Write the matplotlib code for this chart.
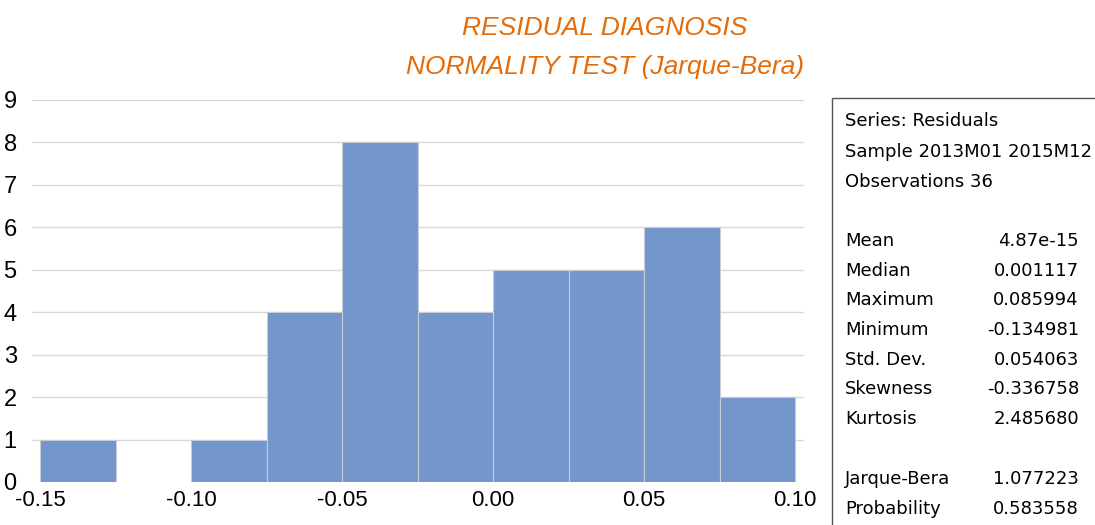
import matplotlib
matplotlib.use("Agg")
import matplotlib.pyplot as plt
from matplotlib.patches import Rectangle

# residual histogram (bin width 0.025)
bin_edges = [-0.15, -0.125, -0.10, -0.075, -0.05, -0.025, 0.0, 0.025, 0.05, 0.075, 0.10]
counts = [1, 0, 1, 4, 8, 4, 5, 5, 6, 2]
xticks = [-0.15, -0.10, -0.05, 0.00, 0.05, 0.10]
yticks = list(range(0, 10))

stat_header = ["Series: Residuals", "Sample 2013M01 2015M12", "Observations 36"]
stat_names = ["Mean", "Median", "Maximum", "Minimum", "Std. Dev.", "Skewness", "Kurtosis"]
stat_values = ["4.87e-15", "0.001117", "0.085994", "-0.134981", "0.054063", "-0.336758", "2.485680"]
test_names = ["Jarque-Bera", "Probability"]
test_values = ["1.077223", "0.583558"]

plt.rcParams['font.family'] = ['Liberation Sans', 'DejaVu Sans']

W, H = 1095, 525
fig = plt.figure(figsize=(W / 100, H / 100), dpi=100)
ax = fig.add_axes([32 / W, 1 - 482 / H, 772 / W, 382 / H])

widths = [bin_edges[i + 1] - bin_edges[i] for i in range(len(counts))]
edges = ['#C8CCD4' if c > 0 else 'none' for c in counts]
ax.bar(bin_edges[:-1], counts, width=widths, align='edge',
       color='#7396CD', edgecolor=edges, linewidth=0.8, zorder=2)

ax.set_xlim(-0.15265, 0.10298)
ax.set_ylim(0, 9)
ax.set_xticks(xticks)
ax.set_xticklabels(["%.2f" % v for v in xticks])
ax.set_yticks(yticks)
ax.tick_params(length=0, labelsize=16, pad=6)
ax.tick_params(axis='y', labelsize=17, pad=11)
ax.grid(axis='y', color='#D9D9D9', linewidth=1, zorder=0)
ax.yaxis.get_gridlines()[0].set_visible(False)
for s in ax.spines.values():
    s.set_visible(False)

fig.text(605 / W, 1 - 28 / H, "RESIDUAL DIAGNOSIS", color='#E46C0A',
         fontsize=19, style='italic', ha='center', va='center')
fig.text(605 / W, 1 - 67 / H, "NORMALITY TEST (Jarque-Bera)", color='#E46C0A',
         fontsize=19, style='italic', ha='center', va='center')

# stats box
fig.patches.append(Rectangle((832 / W, -0.01), 0.3, (1 - 98 / H) + 0.01,
                             transform=fig.transFigure, fill=False,
                             edgecolor='#555555', linewidth=1))
fs = 13
ys = [121, 152, 182]
for t, y in zip(stat_header, ys):
    fig.text(845 / W, 1 - y / H, t, fontsize=fs, va='center', ha='left',
             family='DejaVu Sans')
y0 = 241
for i, (n, v) in enumerate(zip(stat_names, stat_values)):
    y = y0 + i * 29.7
    fig.text(845 / W, 1 - y / H, n, fontsize=fs, va='center', ha='left',
             family='DejaVu Sans')
    fig.text(1079 / W, 1 - y / H, v, fontsize=fs, va='center', ha='right',
             family='DejaVu Sans')
for i, (n, v) in enumerate(zip(test_names, test_values)):
    y = 479 + i * 30
    fig.text(845 / W, 1 - y / H, n, fontsize=fs, va='center', ha='left',
             family='DejaVu Sans')
    fig.text(1079 / W, 1 - y / H, v, fontsize=fs, va='center', ha='right',
             family='DejaVu Sans')

fig.savefig("out.png", dpi=100)
